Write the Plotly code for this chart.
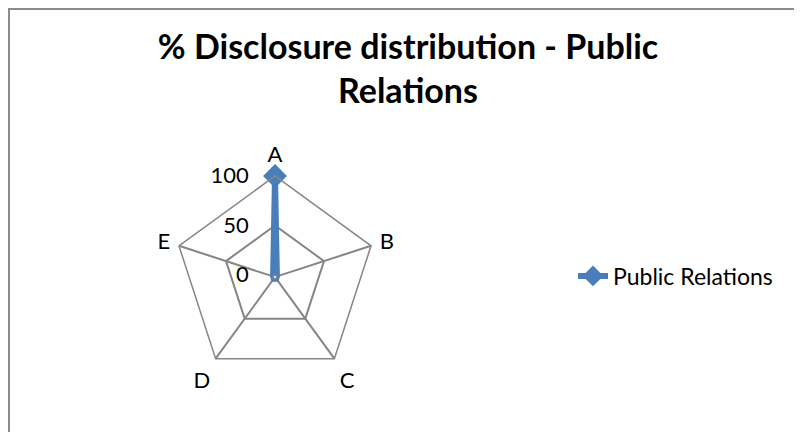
import plotly.graph_objects as go

categories = ["A", "B", "C", "D", "E"]
values = [100, 0, 0, 0, 0]
radial_ticks = [0, 50, 100]
series_name = "Public Relations"

W, H = 802, 432
OFF = 8  # page body margin pushes the plot 8px right/down
blue = "#4A7EBB"
grid = "#868686"
font = "Lato"

fig = go.Figure()
fig.add_trace(go.Scatterpolar(
    r=values + values[:1], theta=categories + categories[:1],
    mode="lines+markers", name=series_name, cliponaxis=False,
    line=dict(color=blue, width=6),
    marker=dict(symbol="diamond", size=18, color=blue),
))

# radar centre ~ (275, 277) on screen, radius ~101 px
cx, cy, R = 275 - OFF, 277 - OFF, 101
fig.update_layout(
    width=W, height=H,
    margin=dict(l=0, r=0, t=0, b=0),
    paper_bgcolor="white",
    font=dict(family=font, color="black", size=22),
    title=dict(text="<b>% Disclosure distribution - Public<br>Relations</b>",
               x=(408 - OFF) / W, xanchor="center", y=1 - 51 / H, yanchor="top",
               font=dict(family=font, size=34, color="black")),
    polar=dict(
        domain=dict(x=[(cx - R) / W, (cx + R) / W], y=[1 - (cy + R) / H, 1 - (cy - R) / H]),
        bgcolor="white",
        gridshape="linear",
        hole=0.02,
        angularaxis=dict(categoryarray=categories, categoryorder="array",
                         direction="clockwise", rotation=90,
                         showline=True, linecolor=grid, linewidth=1.5,
                         gridcolor=grid, gridwidth=1.5,
                         ticks="outside", ticklen=4, tickcolor="rgba(0,0,0,0)",
                         tickfont=dict(size=22)),
        radialaxis=dict(range=[0, 100], tickvals=radial_ticks, angle=90,
                        tickangle=90, side="counterclockwise",
                        showline=False, gridcolor=grid, gridwidth=1.5,
                        ticks="outside", ticklen=18, tickcolor="rgba(0,0,0,0)",
                        tickfont=dict(size=22)),
    ),
    showlegend=True,
    legend=dict(x=565 / W, xanchor="left", y=1 - 268 / H, yanchor="middle",
                font=dict(size=23), bgcolor="rgba(0,0,0,0)"),
    shapes=[dict(type="rect", xref="paper", yref="paper",
                 x0=1 / W, x1=1.2, y0=-0.2, y1=1 - 1 / H,
                 line=dict(color="#8c8c8c", width=2))],
)

fig.write_html("out.html")
